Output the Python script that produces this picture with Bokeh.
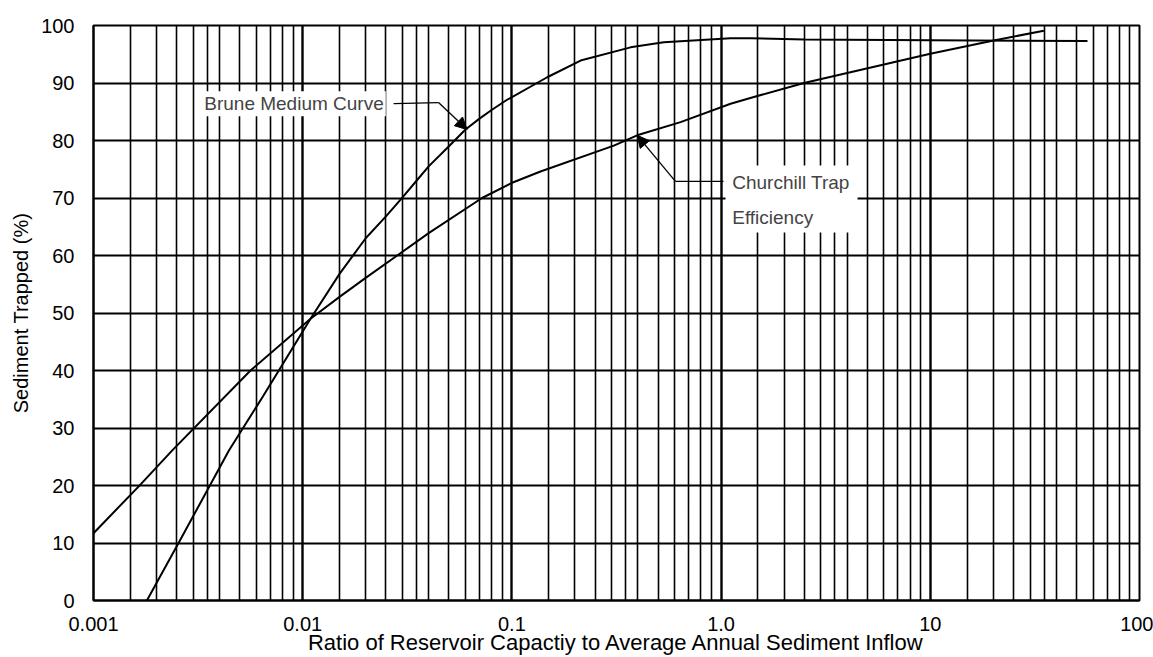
from bokeh.plotting import figure
from bokeh.models import FixedTicker, Label, Arrow, NormalHead, BoxAnnotation, Range1d
from bokeh.embed import file_html
from bokeh.resources import INLINE

# ---- data ----
brune_ratio = [0.00180, 0.00255, 0.00360, 0.00444, 0.00628, 0.0109, 0.015, 0.02,
               0.025, 0.03, 0.035, 0.04, 0.05, 0.06, 0.07, 0.08, 0.094, 0.1475,
               0.213, 0.369, 0.532, 1.11, 1.38, 2.5, 10.0, 56.4]
brune_trapped = [0.0, 10.0, 20.0, 26.1, 34.8, 49.0, 56.8, 63.0,
                 66.8, 70.1, 73.0, 75.5, 79.0, 81.9, 83.8, 85.3, 87.0, 91.0,
                 93.9, 96.2, 97.1, 97.8, 97.8, 97.55, 97.45, 97.3]

churchill_ratio = [0.001, 0.00165, 0.00238, 0.00563, 0.0109, 0.015, 0.02, 0.0283, 0.04,
                   0.072, 0.1009, 0.137, 0.307, 0.397, 0.64, 1.11, 1.38, 2.49, 10.0,
                   20.1, 34.9]
churchill_trapped = [11.7, 19.9, 26.1, 40.0, 49.0, 52.8, 56.1, 60.0, 63.9,
                     70.0, 72.7, 74.6, 79.1, 80.9, 83.2, 86.4, 87.4, 90.0, 95.1,
                     97.4, 99.1]

x_tick_values = [0.001, 0.01, 0.1, 1, 10, 100]
x_tick_labels = ["0.001", "0.01", "0.1", "1.0", "10", "100"]
y_tick_values = [0, 10, 20, 30, 40, 50, 60, 70, 80, 90, 100]
minor_multipliers = [1.5, 2, 2.5, 3, 3.5, 4, 5, 6, 7, 8, 9]

x_title = "Ratio of Reservoir Capactiy to Average Annual Sediment Inflow"
y_title = "Sediment Trapped (%)"

# annotation anchors (data coordinates)
brune_label_pos = (0.00331, 86.4)
brune_leader = [(0.0272, 86.4), (0.0446, 86.6)]
brune_arrow_tip = (0.0611, 81.9)
church_label_pos1 = (1.13, 72.75)
church_label_pos2 = (1.13, 66.55)
church_leader = [(1.027, 72.9), (0.605, 72.9)]
church_arrow_tip = (0.397, 80.9)
church_box = dict(left=1.05, right=4.49, bottom=64.0, top=75.65)

FONT = "Liberation Sans"

minor_ticks = [m * d for d in x_tick_values[:-1] for m in minor_multipliers]
xticker = FixedTicker(ticks=x_tick_values, minor_ticks=minor_ticks)
yticker = FixedTicker(ticks=y_tick_values)

p = figure(width=1153, height=657, x_axis_type="log",
           x_range=Range1d(0.001, 100), y_range=Range1d(0, 100),
           output_backend="svg", toolbar_location=None,
           min_border_left=93, min_border_right=14, min_border_top=25, min_border_bottom=57)
p.background_fill_color = "white"
p.border_fill_color = "white"
p.outline_line_color = "black"
p.outline_line_width = 2

p.xaxis.ticker = xticker
p.yaxis.ticker = yticker
p.xgrid.ticker = xticker
p.ygrid.ticker = yticker

p.xgrid.grid_line_color = "black"
p.xgrid.grid_line_width = 2.4
p.xgrid.minor_grid_line_color = "black"
p.xgrid.minor_grid_line_width = 1.6
p.ygrid.grid_line_color = "black"
p.ygrid.grid_line_width = 2

p.xaxis.major_label_overrides = {v: t for v, t in zip(x_tick_values, x_tick_labels)}

for ax in (p.xaxis[0], p.yaxis[0]):
    ax.axis_line_color = "black"
    ax.axis_line_width = 2
    ax.major_tick_out = 0
    ax.major_tick_in = 0
    ax.minor_tick_out = 0
    ax.minor_tick_in = 0
    ax.major_label_text_font = FONT
    ax.major_label_text_font_size = "20px"
    ax.major_label_text_color = "black"
    ax.axis_label_text_font = FONT
    ax.axis_label_text_font_style = "normal"
    ax.axis_label_text_color = "black"

p.xaxis.axis_label = x_title
p.xaxis.axis_label_text_font_size = "22px"
p.xaxis.major_label_standoff = 16
p.xaxis.axis_label_standoff = -4
p.yaxis.axis_label = y_title
p.yaxis.axis_label_text_font_size = "20px"
p.yaxis.major_label_standoff = 19
p.yaxis.axis_label_standoff = 6

p.line(brune_ratio, brune_trapped, line_color="black", line_width=2)
p.line(churchill_ratio, churchill_trapped, line_color="black", line_width=2)

# leaders
p.line([pt[0] for pt in brune_leader], [pt[1] for pt in brune_leader], line_color="black", line_width=1.3)
p.add_layout(Arrow(end=NormalHead(size=12, fill_color="black", line_color="black"),
                   x_start=brune_leader[-1][0], y_start=brune_leader[-1][1],
                   x_end=brune_arrow_tip[0], y_end=brune_arrow_tip[1],
                   line_color="black", line_width=1.3))
p.line([pt[0] for pt in church_leader], [pt[1] for pt in church_leader], line_color="black", line_width=1.3)
p.add_layout(Arrow(end=NormalHead(size=12, fill_color="black", line_color="black"),
                   x_start=church_leader[-1][0], y_start=church_leader[-1][1],
                   x_end=church_arrow_tip[0], y_end=church_arrow_tip[1],
                   line_color="black", line_width=1.3))

p.add_layout(BoxAnnotation(fill_color="white", fill_alpha=1.0, line_alpha=0.0, **church_box))

p.add_layout(Label(x=brune_label_pos[0], y=brune_label_pos[1], text="Brune Medium Curve",
                   text_font=FONT, text_font_size="19px", text_baseline="middle",
                   text_align="left", background_fill_color="white", padding=2))
p.add_layout(Label(x=church_label_pos1[0], y=church_label_pos1[1], text="Churchill Trap",
                   text_font=FONT, text_font_size="19px", text_baseline="middle", text_align="left"))
p.add_layout(Label(x=church_label_pos2[0], y=church_label_pos2[1], text="Efficiency",
                   text_font=FONT, text_font_size="19px", text_baseline="middle", text_align="left"))

open("out.html", "w").write(file_html(p, INLINE))
